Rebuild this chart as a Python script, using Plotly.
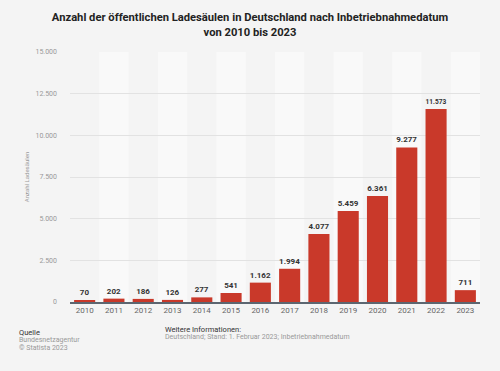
import plotly.graph_objects as go

years = list(range(2010, 2024))
values = [70, 202, 186, 126, 277, 541, 1162, 1994, 4077, 5459, 6361, 9277, 11573, 711]
y_ticks = [0, 2500, 5000, 7500, 10000, 12500, 15000]

def de(n):
    return f"{n:,}".replace(",", ".")

labels = [de(v) for v in values]
y_ticktext = [de(v) for v in y_ticks]

font = "Roboto, Arial, sans-serif"

fig = go.Figure()
fig.add_trace(go.Bar(
    x=years, y=values, text=labels, textposition="outside",
    textfont=dict(family=font, size=8, color="#333333", weight="bold"),
    marker=dict(color="#c9392a", line=dict(width=0)),
    cliponaxis=False, width=0.72, hoverinfo="skip",
))

shapes = []
for yr in years:
    if yr % 2 == 1:
        shapes.append(dict(type="rect", xref="x", yref="paper", x0=yr - 0.5, x1=yr + 0.5,
                           y0=0, y1=1, fillcolor="#f9f9f9", line=dict(width=0), layer="below"))

W, H = 500, 371
l, r, t, b = 70, 20, 52, 69
pw, ph = W - l - r, H - t - b
def px(x): return (x - l) / pw
def py(y): return (H - b - y) / ph

notes = [
    ("Quelle", 17, 332, "#333333", 7.5),
    ("Bundesnetzagentur", 17, 340, "#999999", 7),
    ("© Statista 2023", 17, 348, "#999999", 7),
    ("Weitere Informationen:", 163, 329, "#333333", 7.5),
    ("Deutschland; Stand: 1. Februar 2023; Inbetriebnahmedatum", 163, 337, "#999999", 7),
]
annotations = [
    dict(text=tx, x=px(x), y=py(y), xref="paper", yref="paper", xanchor="left", yanchor="middle",
         showarrow=False, font=dict(family=font, size=s, color=c))
    for tx, x, y, c, s in notes
]

fig.update_layout(
    width=W, height=H,
    margin=dict(l=l, r=r, t=t, b=b),
    paper_bgcolor="#f4f4f4", plot_bgcolor="#f4f4f4",
    showlegend=False,
    shapes=shapes,
    annotations=annotations,
    title=dict(
        text="<b>Anzahl der öffentlichen Ladesäulen in Deutschland nach Inbetriebnahmedatum<br>von 2010 bis 2023</b>",
        x=0.5, xanchor="center", y=1 - 21 / H, yanchor="top",
        font=dict(family=font, size=11.2, color="#222222"),
    ),
    xaxis=dict(
        range=[2009.5, 2023.5], tickmode="array", tickvals=years, ticktext=[str(y) for y in years],
        showgrid=False, zeroline=False, showline=True, linecolor="#5c6670", linewidth=1.5,
        ticks="", tickfont=dict(family=font, size=8, color="#666666"),
    ),
    yaxis=dict(
        range=[0, 15000], tickmode="array", tickvals=y_ticks, ticktext=y_ticktext,
        showgrid=True, gridcolor="#e2e2e2", gridwidth=1, zeroline=False, showline=False,
        ticks="", ticklabelstandoff=12, tickfont=dict(family=font, size=7, color="#999999"),
        title=dict(text="Anzahl Ladesäulen", font=dict(family=font, size=6, color="#999999"), standoff=5),
    ),
)

fig.write_html("out.html", config={"displayModeBar": False},
               post_script="document.body.style.margin='0';document.body.style.overflow='hidden';")
